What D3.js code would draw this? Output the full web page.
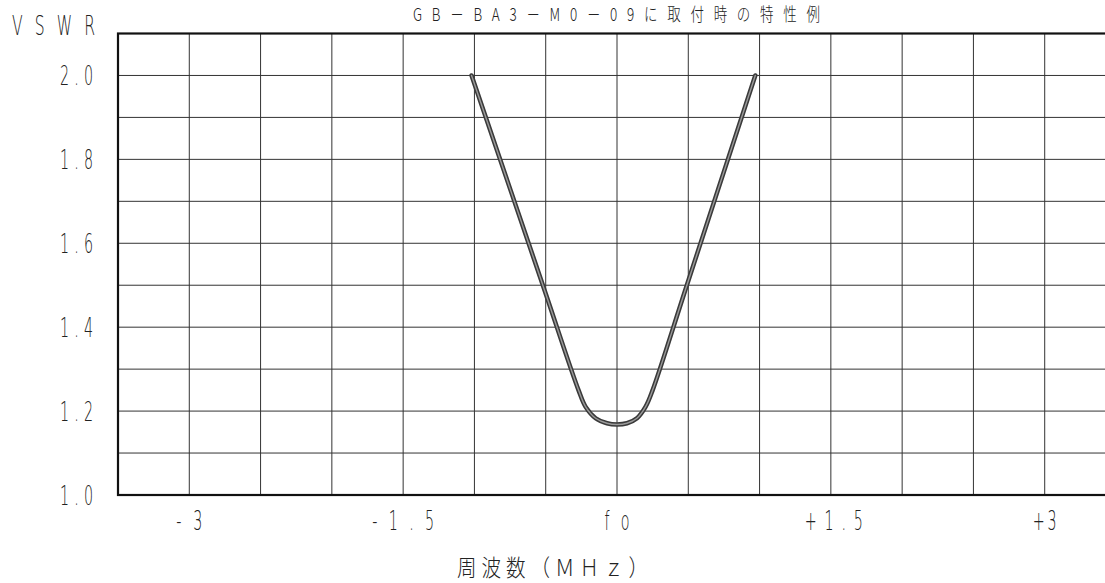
<!DOCTYPE html>
<html>
<head>
<meta charset="utf-8">
<script src="https://cdn.jsdelivr.net/npm/d3@7"></script>
<style>
  html, body { margin: 0; padding: 0; background: #fff; }
  svg { display: block; }
  text { fill: #222; }
</style>
</head>
<body>
<script>
// VSWR vs frequency offset from fo (MHz)
const freqOffset = [-1.02, -0.52, -0.27, -0.22, -0.15, -0.07, 0, 0.07, 0.14, 0.20, 0.25, 0.49, 0.97];
const vswr       = [2.00, 1.50, 1.25, 1.21, 1.183, 1.171, 1.168, 1.171, 1.183, 1.21, 1.25, 1.50, 2.00];

const xTicks  = [-3, -1.5, 0, 1.5, 3];
const xLabels = ["-3", "-1.5", "fo", "+1.5", "+3"];
const xLabelWidths = [26, 62, 25, 58, 24];
const yTicks  = [1.0, 1.2, 1.4, 1.6, 1.8, 2.0];
const yLabels = ["1.0", "1.2", "1.4", "1.6", "1.8", "2.0"];
const xGrid = d3.range(-3, 3.01, 0.5);
const yGrid = d3.range(1.1, 2.01, 0.1);

const title = "GB－BA3－M0－09に取付時の特性例";
const xTitle = "周波数（ＭＨｚ）";
const yTitle = "VSWR";

const width = 1105, height = 583;

const svg = d3.select("body")
    .append("svg")
    .attr("width", width)
    .attr("height", height);

const x = d3.scaleLinear().domain([-3.5, 3.5]).range([118, 1116]);
const y = d3.scaleLinear().domain([1.0, 2.1]).range([495, 33.5]);

// narrow, stretched text like the plotter lettering
function label(str, px, py, len, opts = {}) {
    const sx = opts.sx || 0.55;
    return svg.append("text")
        .attr("transform", `translate(${px},${py}) scale(${sx},1)`)
        .attr("text-anchor", opts.anchor || "middle")
        .attr("font-family", opts.font || "DejaVu Sans")
        .attr("font-weight", opts.weight || 200)
        .attr("font-size", opts.size || 26)
        .attr("textLength", len / sx)
        .attr("lengthAdjust", "spacing")
        .text(str);
}

// grid
svg.append("g")
    .attr("stroke", "#333")
    .attr("stroke-width", 1)
    .selectAll("line.v")
    .data(xGrid)
    .join("line")
    .attr("x1", d => x(d)).attr("x2", d => x(d))
    .attr("y1", y(2.1)).attr("y2", y(1.0));

svg.append("g")
    .attr("stroke", "#333")
    .attr("stroke-width", 1)
    .selectAll("line.h")
    .data(yGrid)
    .join("line")
    .attr("x1", x(-3.5)).attr("x2", x(3.5))
    .attr("y1", d => y(d)).attr("y2", d => y(d));

// frame
svg.append("rect")
    .attr("x", x(-3.5)).attr("y", y(2.1))
    .attr("width", x(3.5) - x(-3.5))
    .attr("height", y(1.0) - y(2.1))
    .attr("fill", "none")
    .attr("stroke", "#111")
    .attr("stroke-width", 2.2);

// curve
const pts = freqOffset.map((f, i) => [f, vswr[i]]);
const line = d3.line()
    .x(d => x(d[0]))
    .y(d => y(d[1]))
    .curve(d3.curveCatmullRom.alpha(0.5));

svg.append("path")
    .datum(pts)
    .attr("d", line)
    .attr("fill", "none")
    .attr("stroke", "#3a3a3a")
    .attr("stroke-width", 4.5)
    .attr("stroke-linejoin", "round")
    .attr("stroke-linecap", "round");

svg.append("path")
    .datum(pts)
    .attr("d", line)
    .attr("fill", "none")
    .attr("stroke", "#9a9a9a")
    .attr("stroke-width", 1.4)
    .attr("stroke-linejoin", "round")
    .attr("stroke-linecap", "round");

// tick labels
yTicks.forEach((t, i) => label(yLabels[i], 93, y(t) + 10, 33, { anchor: "end" }));
xTicks.forEach((t, i) => label(xLabels[i], x(t) + (i === 3 ? 3 : 0), 530, xLabelWidths[i]));

// titles
label(yTitle, 12, 35, 83, { anchor: "start", sx: 0.6 });
label(xTitle, 457, 576, 191, { anchor: "start", font: "Noto Sans CJK JP", weight: 300, size: 23, sx: 0.85 });
label(title, 413, 21, 407, { anchor: "start", font: "Noto Sans CJK JP", weight: 300, size: 18, sx: 0.75 });
</script>
</body>
</html>
